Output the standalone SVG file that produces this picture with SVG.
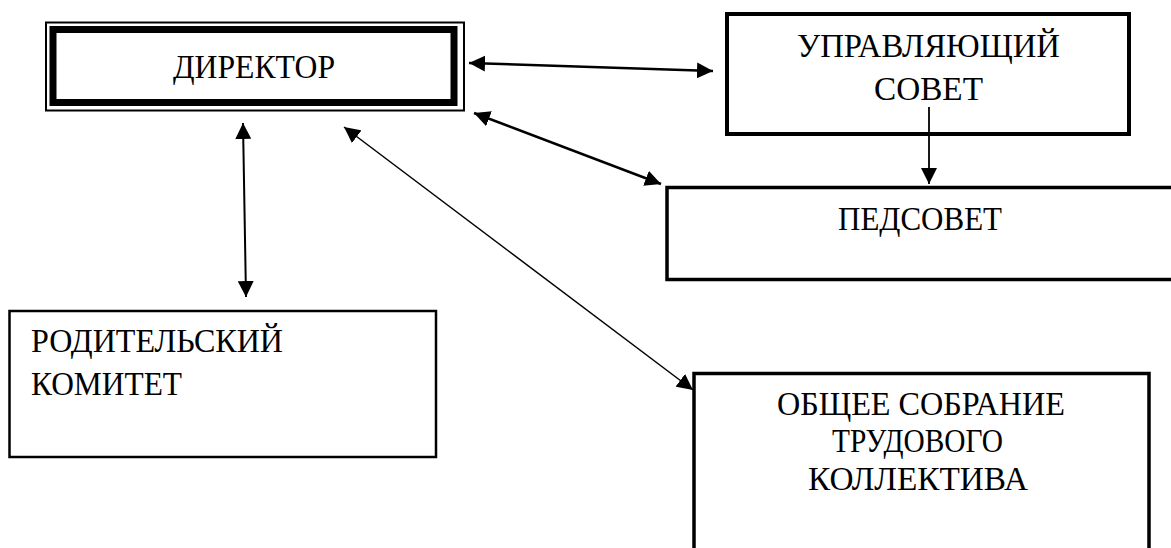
<svg xmlns="http://www.w3.org/2000/svg" width="1171" height="548" viewBox="0 0 1171 548">
<style>
.box{fill:#fff;stroke:#000}
.t{font-family:'Liberation Serif','Times New Roman','DejaVu Serif',serif;font-size:34px;fill:#000}
.c{stroke:#000;fill:none}
</style>
<defs>
<marker id="ah" markerUnits="userSpaceOnUse" markerWidth="16" markerHeight="16" refX="15" refY="7.5" orient="auto-start-reverse" viewBox="0 0 15 15">
<path d="M0,0 L15,7.5 L0,15 z" fill="#000"/>
</marker>
</defs>
<rect width="1171" height="548" fill="#fff"/>
<g id="director">
<rect class="box" x="46" y="22.5" width="418" height="88" stroke-width="2"/>
<rect class="box" x="53" y="29.5" width="401" height="73" stroke-width="7"/>
<text class="t" x="173" y="78" textLength="162" lengthAdjust="spacingAndGlyphs">ДИРЕКТОР</text>
</g>
<g id="upravl">
<rect class="box" x="727" y="14" width="402" height="120" stroke-width="4"/>
<text class="t" x="797" y="57" textLength="263" lengthAdjust="spacingAndGlyphs">УПРАВЛЯЮЩИЙ</text>
<text class="t" x="874" y="100" textLength="109" lengthAdjust="spacingAndGlyphs">СОВЕТ</text>
</g>
<g id="pedsovet">
<rect class="box" x="667" y="187.5" width="530" height="92" stroke-width="3.5"/>
<text class="t" x="838" y="230" textLength="164" lengthAdjust="spacingAndGlyphs">ПЕДСОВЕТ</text>
</g>
<g id="roditel">
<rect class="box" x="9.5" y="311" width="426.5" height="146" stroke-width="2.5"/>
<text class="t" x="31" y="352" textLength="252" lengthAdjust="spacingAndGlyphs">РОДИТЕЛЬСКИЙ</text>
<text class="t" x="31" y="395" textLength="151" lengthAdjust="spacingAndGlyphs">КОМИТЕТ</text>
</g>
<g id="obshee">
<rect class="box" x="694" y="373.5" width="455" height="200" stroke-width="3.5"/>
<text class="t" x="777" y="415" textLength="288" lengthAdjust="spacingAndGlyphs">ОБЩЕЕ СОБРАНИЕ</text>
<text class="t" x="832" y="452" textLength="171" lengthAdjust="spacingAndGlyphs">ТРУДОВОГО</text>
<text class="t" x="808" y="490" textLength="220" lengthAdjust="spacingAndGlyphs">КОЛЛЕКТИВА</text>
</g>
<g id="connectors">
<line class="c" x1="469" y1="63" x2="713" y2="71" stroke-width="2.5" marker-start="url(#ah)" marker-end="url(#ah)"/>
<line class="c" x1="474" y1="113" x2="661" y2="184" stroke-width="2.5" marker-start="url(#ah)" marker-end="url(#ah)"/>
<line class="c" x1="243" y1="123" x2="246" y2="297" stroke-width="2" marker-start="url(#ah)" marker-end="url(#ah)"/>
<line class="c" x1="344" y1="127" x2="693" y2="390" stroke-width="1.5" marker-start="url(#ah)" marker-end="url(#ah)"/>
<line class="c" x1="929" y1="107" x2="929" y2="184" stroke-width="1.8" marker-end="url(#ah)"/>
</g>
</svg>
